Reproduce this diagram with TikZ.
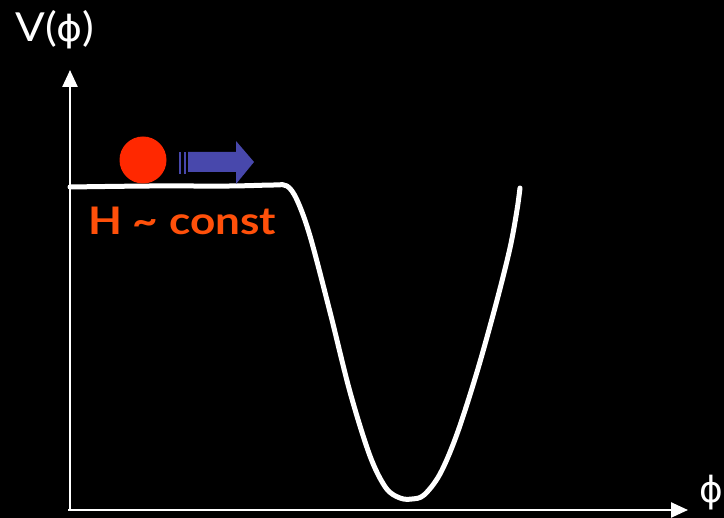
\documentclass[tikz,border=0pt]{standalone}
\usepackage{fontspec}
\setmainfont{Lato}
\newfontfamily\phifont{DejaVu Sans}
\usetikzlibrary{arrows.meta}

\definecolor{ballred}{RGB}{255,40,0}
\definecolor{textorange}{RGB}{255,80,10}
\definecolor{pushblue}{RGB}{72,72,172}

\tikzset{
  axis/.style={white, line width=2.5pt, -{Triangle[length=17pt,width=15pt]}},
  potential/.style={white, line width=5pt, line cap=round, line join=round},
  label/.style={white, inner sep=0pt, font=\fontsize{40}{44}\selectfont}
}

\begin{document}
\begin{tikzpicture}[x=1pt,y=-1pt]

% Background
\fill[black] (0,0) rectangle (724,518);
\useasboundingbox (0,0) rectangle (724,518);

% Axes
\coordinate (O) at (70,510);
\coordinate (ytip) at (70,70);
\coordinate (xtip) at (688,510);
\draw[axis] (O) -- (ytip);
\draw[axis] ([xshift=-2pt]O) -- (xtip);

\node[label, xscale=1.1] (vlabel) at (55,30) {V({\phifont\fontsize{36}{40}\selectfont ϕ})};
\node[label, anchor=east] (philabel) at (723,493) {\phifont\fontsize{36}{40}\selectfont ϕ};

% Potential
\draw[potential] plot[smooth, tension=0.55] coordinates {
  (70,187) (150,186) (230,186) (274,185) (287,186) (297,200)
  (310,236) (330,312) (350,392) (370,456) (386,488) (400,498)
  (412,499) (424,495) (440,474) (457,434) (477,372) (496,304)
  (510,248) (517,210) (520,188)};

% Ball
\node[circle, fill=ballred, minimum size=47pt, inner sep=0pt] (ball) at (143,160) {};

% Push arrow
\foreach \x in {179,183.5}
  \fill[pushblue] (\x,152) rectangle ++(2.2,22);
\fill[pushblue] (188,152) -- (236,152) -- (236,141) -- (254,162)
  -- (236,184) -- (236,172) -- (188,172) -- cycle;

% Hubble rate
\node[font=\fontsize{38}{42}\selectfont\bfseries, text=textorange, anchor=base west, inner sep=0pt, xscale=1.16]
  (hconst) at (88,235) {H \textasciitilde{} const};

\end{tikzpicture}
\end{document}
